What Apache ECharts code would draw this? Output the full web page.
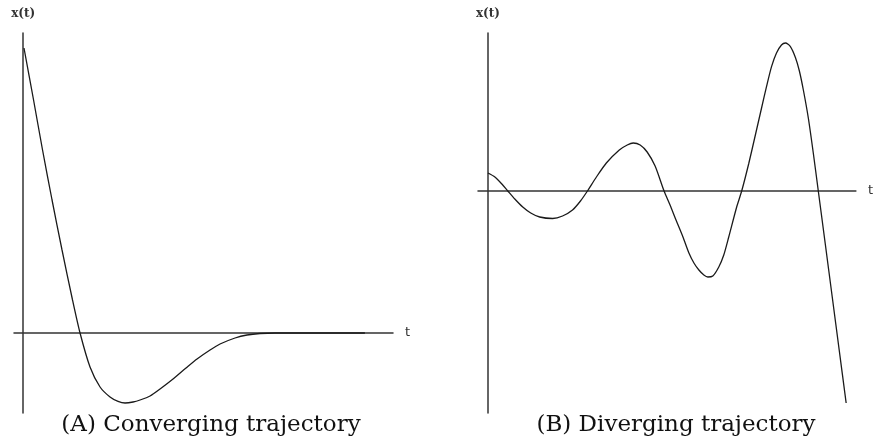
<!DOCTYPE html>
<html>
<head>
<meta charset="utf-8">
<script src="https://cdn.jsdelivr.net/npm/echarts@6/dist/echarts.min.js"></script>
<style>html,body{margin:0;padding:0;background:#fff}#c{width:876px;height:444px}</style>
</head>
<body>
<div id="c"></div>
<script>
// Panel A: converging trajectory (t, x(t))
const tA = [0.02, 0.279, 0.522, 0.779, 1.049, 1.333, 1.536, 1.806, 2.077, 2.347, 2.564, 2.753, 2.970, 3.159, 3.429, 3.700, 4.051, 4.403, 4.700, 5.052, 5.322, 5.728, 6.052, 6.403, 6.81, 9.24];
const xA = [7.125, 5.825, 4.575, 3.325, 2.075, 0.825, 0, -0.85, -1.35, -1.6, -1.71, -1.75, -1.725, -1.675, -1.575, -1.4, -1.15, -0.875, -0.65, -0.425, -0.275, -0.125, -0.05, -0.0125, 0, 0];
// Panel B: diverging trajectory
const tB = [0, 0.189, 0.379, 0.541, 0.730, 0.946, 1.163, 1.406, 1.758, 2.028, 2.299, 2.515, 2.704, 2.948, 3.218, 3.570, 3.786, 3.948, 4.137, 4.327, 4.543, 4.787, 4.949, 5.111, 5.300, 5.462, 5.598, 5.733, 5.868, 5.976, 6.111, 6.274, 6.409, 6.544, 6.760, 6.896, 7.085, 7.274, 7.436, 7.572, 7.707, 7.842, 7.977, 8.085, 8.220, 8.356, 8.464, 8.572, 8.707, 8.842, 8.978, 9.168, 9.357, 9.546, 9.735];
const xB = [0.9, 0.7, 0.35, 0, -0.4, -0.8, -1.1, -1.3, -1.375, -1.25, -0.95, -0.5, 0, 0.7, 1.4, 2.05, 2.3, 2.4, 2.3, 1.95, 1.25, 0, -0.7, -1.45, -2.3, -3.1, -3.6, -3.95, -4.2, -4.3, -4.25, -3.8, -3.2, -2.3, -0.8, 0, 1.35, 2.85, 4.15, 5.23, 6.22, 6.9, 7.3, 7.4, 7.22, 6.675, 6.0, 5.05, 3.65, 1.9, 0, -2.65, -5.3, -7.95, -10.6];
const yAxisName = 'x(t)';
const xAxisName = 't';
const captions = ['(A) Converging trajectory', '(B) Diverging trajectory'];

const chart = echarts.init(document.getElementById('c'), null, {renderer: 'canvas'});
const axisLineStyle = {color: '#333', width: 1.5};
function xAx(gi, min, max) {
  return {
    type: 'value', gridIndex: gi, min: min, max: max,
    axisLine: {show: true, onZero: true, lineStyle: axisLineStyle},
    axisTick: {show: false}, axisLabel: {show: false}, splitLine: {show: false},
    name: xAxisName, nameLocation: 'end', nameGap: 12,
    nameTextStyle: {fontFamily: 'DejaVu Sans', fontSize: 13, color: '#333', verticalAlign: 'middle'}
  };
}
function yAx(gi, min, max) {
  return {
    type: 'value', gridIndex: gi, min: min, max: max,
    axisLine: {show: true, onZero: true, lineStyle: axisLineStyle},
    axisTick: {show: false}, axisLabel: {show: false}, splitLine: {show: false},
    name: yAxisName, nameLocation: 'end', nameGap: 13,
    nameTextStyle: {fontFamily: 'DejaVu Serif', fontWeight: 'bold', fontSize: 12, color: '#333', align: 'center'}
  };
}
const lineStyle = {color: '#1a1a1a', width: 1.3};
chart.setOption({
  animation: false,
  backgroundColor: '#fff',
  grid: [
    {left: 14, top: 33, width: 379, height: 380},
    {left: 478, top: 33, width: 379, height: 380}
  ],
  xAxis: [xAx(0, -0.25, 10), xAx(1, -0.27, 10)],
  yAxis: [yAx(0, -2, 7.5), yAx(1, -11.1, 7.9)],
  series: [
    {type: 'line', xAxisIndex: 0, yAxisIndex: 0, data: tA.map((t, i) => [t, xA[i]]),
     showSymbol: false, smooth: 0.25, lineStyle: lineStyle},
    {type: 'line', xAxisIndex: 1, yAxisIndex: 1, data: tB.map((t, i) => [t, xB[i]]),
     showSymbol: false, smooth: 0.25, lineStyle: lineStyle}
  ],
  graphic: [
    {type: 'text', x: 211, y: 425, style: {text: captions[0], font: '23px "DejaVu Serif"', fill: '#111', textAlign: 'center', textVerticalAlign: 'middle', align: 'center', verticalAlign: 'middle'}},
    {type: 'text', x: 676, y: 425, style: {text: captions[1], font: '23px "DejaVu Serif"', fill: '#111', textAlign: 'center', textVerticalAlign: 'middle', align: 'center', verticalAlign: 'middle'}}
  ]
});
</script>
</body>
</html>
